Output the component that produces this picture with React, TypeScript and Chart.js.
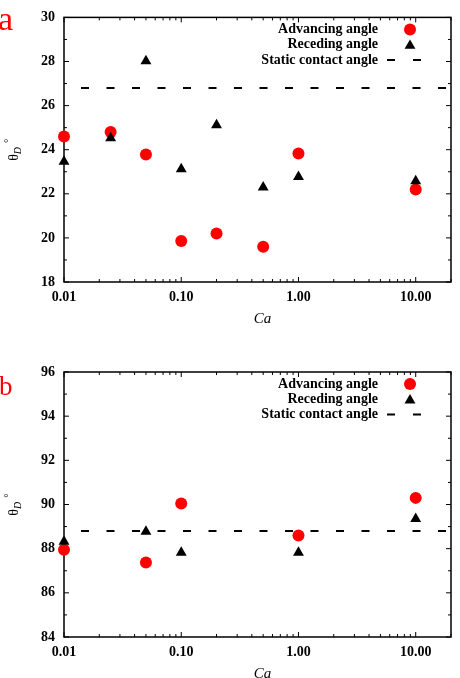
import React, { useEffect, useRef } from "react";
import { Chart, registerables } from "chart.js";

Chart.register(...registerables);

// ---- data ----
const caValuesA = [0.01, 0.025, 0.05, 0.1, 0.2, 0.5, 1.0, 10.0];
const advancingA = [24.6, 24.8, 23.78, 19.86, 20.2, 19.6, 23.83, 22.2];
const recedingA = [23.46, 24.53, 28.02, 23.12, 25.12, 22.29, 22.77, 22.58];
const staticA = 26.8;

const caValuesB = [0.01, 0.05, 0.1, 1.0, 10.0];
const advancingB = [87.95, 87.37, 90.05, 88.6, 90.3];
const recedingB = [88.32, 88.77, 87.82, 87.82, 89.35];
const staticB = 88.8;

const xTickValues = [0.01, 0.1, 1, 10];
const xRange = [0.01, 20];
const yRangeA = [18, 30];
const yRangeB = [84, 96];
const yStep = 2;
const seriesLabels = ["Advancing angle", "Receding angle", "Static contact angle"];
const xTitle = "Ca";
const panelLetters = ["a", "b"];

const SERIF = "'Liberation Serif', 'Times New Roman', serif";
const RED = "#ff0000";

function drawTriangle(ctx: CanvasRenderingContext2D, x: number, y: number, r: number) {
  let rad = 0;
  const T = (2 * Math.PI) / 3;
  ctx.beginPath();
  ctx.moveTo(x + Math.sin(rad) * r, y - Math.cos(rad) * r);
  rad += T;
  ctx.lineTo(x + Math.sin(rad) * r, y - Math.cos(rad) * r);
  rad += T;
  ctx.lineTo(x + Math.sin(rad) * r, y - Math.cos(rad) * r);
  ctx.closePath();
  ctx.fill();
}

const framePlugin = {
  id: "frame",
  beforeDatasetsDraw(chart: any) {
    const { ctx, chartArea: a, scales } = chart;
    const x = scales.x;
    const y = scales.y;
    ctx.save();
    ctx.strokeStyle = "#000";
    ctx.lineWidth = 1.5;
    ctx.strokeRect(a.left, a.top, a.right - a.left, a.bottom - a.top);
    ctx.lineWidth = 1;
    const major = 5;
    const minor = 3;
    const seg = (x1: number, y1: number, x2: number, y2: number) => {
      ctx.beginPath();
      ctx.moveTo(x1, y1);
      ctx.lineTo(x2, y2);
      ctx.stroke();
    };
    for (let v = y.min; v <= y.max + 1e-9; v += 1) {
      const py = y.getPixelForValue(v);
      const len = Math.abs((v - y.min) % yStep) < 1e-9 ? major : minor;
      seg(a.left, py, a.left + len, py);
      seg(a.right, py, a.right - len, py);
    }
    const e0 = Math.floor(Math.log10(x.min) + 1e-9);
    const e1 = Math.ceil(Math.log10(x.max) - 1e-9);
    for (let e = e0; e <= e1; e++) {
      for (let m = 1; m <= 9; m++) {
        const v = m * Math.pow(10, e);
        if (v < x.min * 0.9999 || v > x.max * 1.0001) continue;
        const px = x.getPixelForValue(v);
        const len = m === 1 ? major : minor;
        seg(px, a.bottom, px, a.bottom - len);
        seg(px, a.top, px, a.top + len);
      }
    }
    ctx.restore();
  },
  afterDraw(chart: any, _args: any, opts: any) {
    const { ctx, chartArea: a } = chart;
    ctx.save();
    // legend
    ctx.font = `bold 14px ${SERIF}`;
    ctx.textAlign = "right";
    ctx.textBaseline = "middle";
    chart.data.datasets.forEach((ds: any, i: number) => {
      const ly = a.top + 12 + i * 15.3;
      ctx.fillStyle = "#000";
      ctx.fillText(ds.label, a.right - 73, ly);
      const mx = a.right - 41;
      if (ds.pointStyle === "circle") {
        ctx.fillStyle = ds.backgroundColor;
        ctx.beginPath();
        ctx.arc(mx, ly, 6, 0, Math.PI * 2);
        ctx.fill();
      } else if (ds.pointStyle === "triangle") {
        ctx.fillStyle = ds.backgroundColor;
        drawTriangle(ctx, mx, ly + 1, 6.3);
      } else {
        ctx.strokeStyle = ds.borderColor;
        ctx.lineWidth = 2;
        ctx.setLineDash([8, 18]);
        ctx.beginPath();
        ctx.moveTo(a.right - 64, ly);
        ctx.lineTo(a.right - 30, ly);
        ctx.stroke();
        ctx.setLineDash([]);
      }
    });
    // x title
    ctx.fillStyle = "#000";
    ctx.textAlign = "center";
    ctx.textBaseline = "middle";
    ctx.font = `italic 15px ${SERIF}`;
    ctx.fillText(xTitle, (a.left + a.right) / 2 + 5, a.bottom + 37);
    // y title  θ_D °
    const cy = (a.top + a.bottom) / 2;
    ctx.translate(18, cy);
    ctx.rotate(-Math.PI / 2);
    ctx.textAlign = "left";
    ctx.textBaseline = "alphabetic";
    const fMain = `14px ${SERIF}`;
    const fSub = `italic 10px ${SERIF}`;
    const fSup = `11px ${SERIF}`;
    ctx.font = fMain;
    const w1 = ctx.measureText("θ").width;
    ctx.font = fSub;
    const w2 = ctx.measureText("D").width;
    ctx.font = fSup;
    const w3 = ctx.measureText("°").width;
    const gap = 4;
    const total = w1 + w2 + gap + w3;
    let cx = -total / 2;
    ctx.font = fMain;
    ctx.fillText("θ", cx, 0);
    cx += w1;
    ctx.font = fSub;
    ctx.fillText("D", cx, 3);
    cx += w2 + gap;
    ctx.font = fSup;
    ctx.fillText("°", cx, -6);
    ctx.setTransform(1, 0, 0, 1, 0, 0);
    // panel letter
    ctx.fillStyle = RED;
    ctx.textAlign = "left";
    ctx.textBaseline = "alphabetic";
    ctx.font = `${opts.letterSize}px ${SERIF}`;
    ctx.fillText(opts.letter, opts.letterX, opts.letterY);
    ctx.restore();
  },
};

function makeConfig(
  caValues: number[],
  adv: number[],
  rec: number[],
  stat: number,
  yRange: number[],
  letter: string,
  padTop: number,
  xAxisHeight: number,
  letterSize: number,
  letterX: number,
  letterY: number
): any {
  const tickFont = { family: SERIF, size: 14, weight: "bold" as const };
  return {
    type: "scatter",
    data: {
      datasets: [
        {
          label: seriesLabels[0],
          data: caValues.map((c, i) => ({ x: c, y: adv[i] })),
          pointStyle: "circle",
          pointRadius: 6,
          pointBorderWidth: 0,
          backgroundColor: RED,
          borderColor: RED,
          clip: false,
          order: 1,
        },
        {
          label: seriesLabels[1],
          data: caValues.map((c, i) => ({ x: c, y: rec[i] })),
          pointStyle: "triangle",
          pointRadius: 6.3,
          pointBorderWidth: 0,
          backgroundColor: "#000",
          borderColor: "#000",
          clip: false,
          order: 0,
        },
        {
          label: seriesLabels[2],
          type: "line",
          data: xRange.map((c) => ({ x: c, y: stat })),
          showLine: true,
          pointRadius: 0,
          borderColor: "#000",
          borderWidth: 2,
          borderDash: [8, 17.5],
          borderDashOffset: 8.5,
          fill: false,
          order: 2,
        },
      ],
    },
    options: {
      animation: false,
      responsive: false,
      devicePixelRatio: 1,
      layout: { padding: { left: 0, right: 9, top: padTop, bottom: 0 } },
      plugins: {
        legend: { display: false },
        tooltip: { enabled: false },
        frame: { letter, letterSize, letterX, letterY },
      },
      scales: {
        x: {
          type: "logarithmic",
          min: xRange[0],
          max: xRange[1],
          grid: { display: false, drawTicks: false, tickLength: 0 },
          border: { display: false },
          afterBuildTicks: (scale: any) => {
            scale.ticks = xTickValues.map((v) => ({ value: v }));
          },
          afterFit: (scale: any) => {
            scale.height = xAxisHeight;
          },
          ticks: {
            color: "#000",
            font: tickFont,
            padding: 7,
            maxRotation: 0,
            autoSkip: false,
            callback: (v: any) => Number(v).toFixed(2),
          },
        },
        y: {
          type: "linear",
          min: yRange[0],
          max: yRange[1],
          grid: { display: false, drawTicks: false, tickLength: 0 },
          border: { display: false },
          afterFit: (scale: any) => {
            scale.width = 64;
          },
          ticks: {
            color: "#000",
            font: tickFont,
            padding: 9,
            stepSize: yStep,
            callback: (v: any) => String(v),
          },
        },
      },
    },
    plugins: [framePlugin],
  };
}

function Panel(props: { config: () => any; height: number; top: number }) {
  const ref = useRef<HTMLCanvasElement>(null);
  useEffect(() => {
    if (!ref.current) return;
    const chart = new Chart(ref.current, props.config());
    return () => chart.destroy();
  }, []);
  return (
    <canvas
      ref={ref}
      width={460}
      height={props.height}
      style={{ position: "absolute", left: 0, top: props.top, width: 460, height: props.height, display: "block" }}
    />
  );
}

export default function App() {
  return (
    <div style={{ position: "absolute", left: 0, top: 0, width: 460, height: 678, background: "#fff", overflow: "hidden" }}>
      <Panel
        top={0}
        height={340}
        config={() =>
          makeConfig(caValuesA, advancingA, recedingA, staticA, yRangeA, panelLetters[0], 17, 58, 34, -2, 30)
        }
      />
      <Panel
        top={340}
        height={338}
        config={() =>
          makeConfig(caValuesB, advancingB, recedingB, staticB, yRangeB, panelLetters[1], 32, 41, 27, -1, 55)
        }
      />
    </div>
  );
}
